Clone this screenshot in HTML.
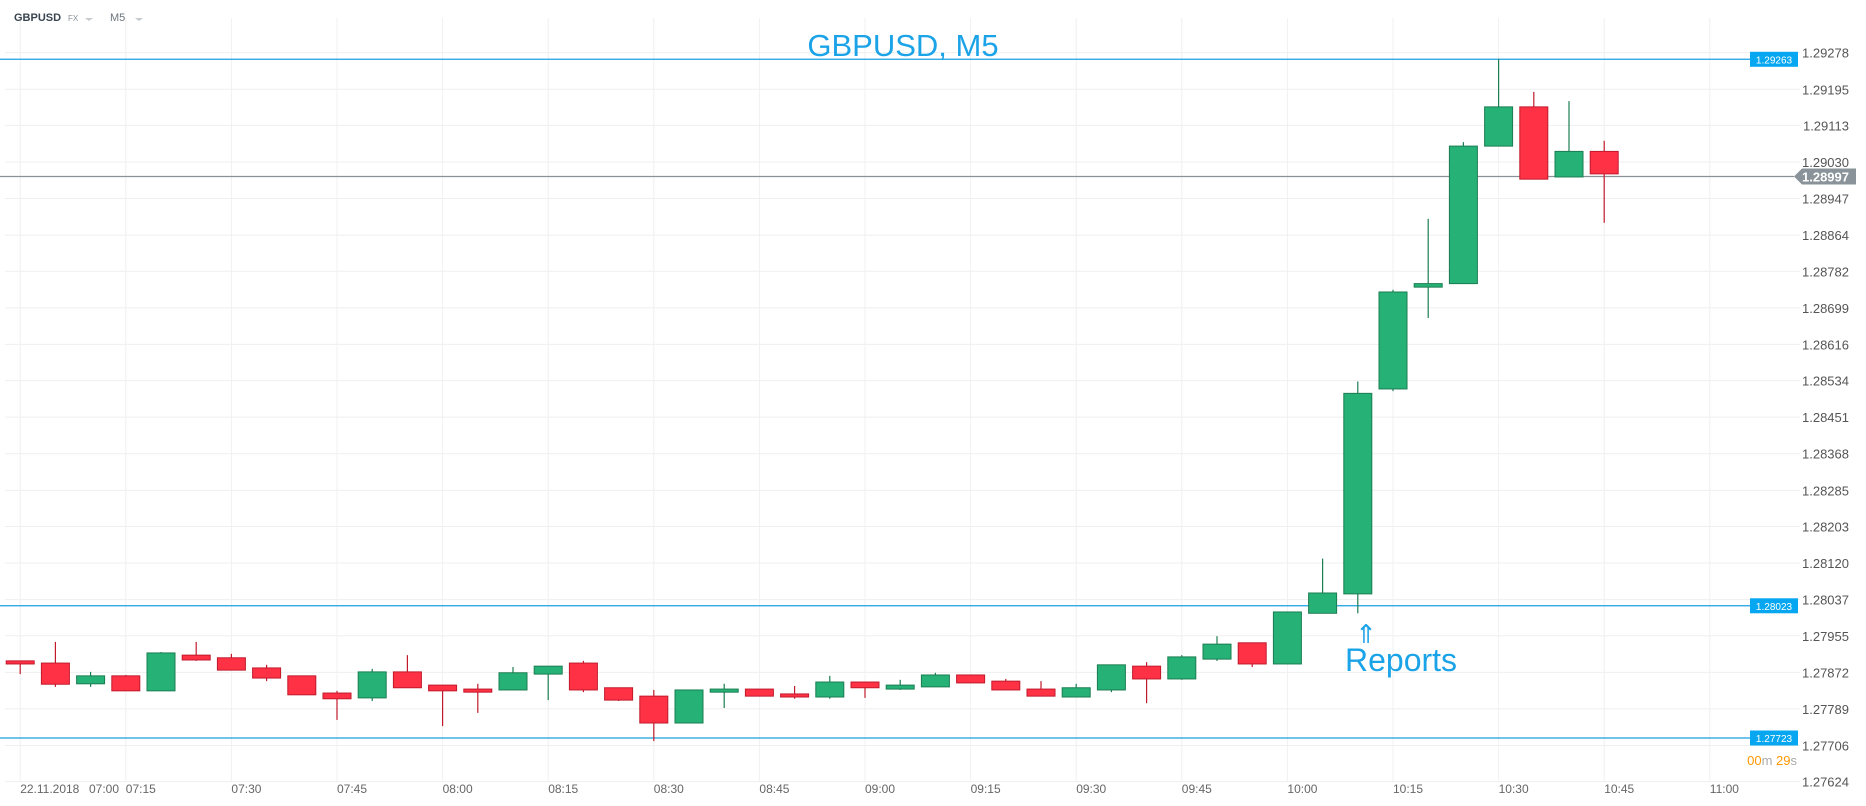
<!DOCTYPE html>
<html><head><meta charset="utf-8"><style>
html,body{margin:0;padding:0;background:#fff;}
svg{display:block;font-family:"Liberation Sans",sans-serif;}
</style></head><body>
<svg id="chart" width="1866" height="806" xmlns="http://www.w3.org/2000/svg">
<g id="grid"></g>
<g id="lines"></g>
<g id="candles"></g>
<g id="yaxis"></g>
<g id="xaxis"></g>
<text x="14" y="21" font-size="11" font-weight="bold" fill="#3a4550">GBPUSD</text>
<text x="68" y="21" font-size="8" fill="#8a939b">FX</text>
<path d="M85 18 L93 18 L89 21 Z" fill="#c5cacf"/>
<text x="110" y="21" font-size="11" fill="#6c757d">M5</text>
<path d="M135 18 L143 18 L139 21 Z" fill="#c5cacf"/>
<text x="903" y="56" font-size="31" fill="#1ba3e8" text-anchor="middle">GBPUSD, M5</text>
<text x="1345" y="671" font-size="32" fill="#1ba3e8">Reports</text>
<text x="1366" y="643" font-size="26" fill="#1ba3e8" text-anchor="middle">⇑</text>
<text x="1797" y="765" font-size="13" text-anchor="end"><tspan fill="#ff9800">00</tspan><tspan fill="#aaa">m </tspan><tspan fill="#ff9800">29</tspan><tspan fill="#aaa">s</tspan></text>
</svg>
<script>
const opens  = [1.27898,1.27893,1.27846,1.27864,1.27830,1.27911,1.27905,1.27882,1.27864,1.27825,1.27814,1.27873,1.27843,1.27834,1.27832,1.27868,1.27893,1.27837,1.27818,1.27757,1.27827,1.27834,1.27823,1.27816,1.27850,1.27834,1.27839,1.27866,1.27852,1.27834,1.27816,1.27832,1.27886,1.27857,1.27902,1.27939,1.27891,1.28006,1.28050,1.28515,1.28746,1.28754,1.29066,1.29155,1.28996,1.29054];
const highs  = [1.27898,1.27941,1.27873,1.27866,1.27918,1.27941,1.27914,1.27889,1.27864,1.27830,1.27880,1.27911,1.27843,1.27846,1.27884,1.27886,1.27898,1.27837,1.27832,1.27832,1.27846,1.27834,1.27841,1.27864,1.27850,1.27855,1.27871,1.27866,1.27857,1.27852,1.27846,1.27889,1.27895,1.27911,1.27954,1.27939,1.28009,1.28130,1.28532,1.28740,1.28901,1.29075,1.29264,1.29189,1.29168,1.29078];
const lows   = [1.27868,1.27839,1.27839,1.27830,1.27830,1.27898,1.27877,1.27852,1.27821,1.27764,1.27807,1.27837,1.27750,1.27780,1.27832,1.27809,1.27827,1.27807,1.27716,1.27757,1.27791,1.27818,1.27812,1.27812,1.27814,1.27832,1.27839,1.27848,1.27832,1.27818,1.27816,1.27827,1.27802,1.27855,1.27898,1.27884,1.27891,1.28006,1.28006,1.28510,1.28676,1.28754,1.29066,1.28991,1.28996,1.28892];
const closes = [1.27891,1.27845,1.27864,1.27830,1.27916,1.27900,1.27877,1.27859,1.27821,1.27812,1.27873,1.27837,1.27830,1.27827,1.27871,1.27886,1.27832,1.27809,1.27757,1.27832,1.27834,1.27818,1.27816,1.27850,1.27837,1.27843,1.27866,1.27848,1.27832,1.27818,1.27837,1.27889,1.27857,1.27907,1.27936,1.27891,1.28009,1.28052,1.28505,1.28735,1.28754,1.29066,1.29155,1.28991,1.29054,1.29003];
const yTicks = [1.29278,1.29195,1.29113,1.29030,1.28947,1.28864,1.28782,1.28699,1.28616,1.28534,1.28451,1.28368,1.28285,1.28203,1.28120,1.28037,1.27955,1.27872,1.27789,1.27706,1.27624];
const timeLabels = ["22.11.2018","07:15","07:30","07:45","08:00","08:15","08:30","08:45","09:00","09:15","09:30","09:45","10:00","10:15","10:30","10:45","11:00"];
const levels = [1.29263,1.28023,1.27723];
const lastPrice = 1.28997;

const NS="http://www.w3.org/2000/svg";
function yOf(p){return 738-(p-1.27723)/0.00002269;}
function xOf(i){return 20.2+35.2*i;}
function mk(tag,attrs,parent){const e=document.createElementNS(NS,tag);for(const k in attrs)e.setAttribute(k,attrs[k]);parent.appendChild(e);return e;}
const grid=document.getElementById('grid'),lines=document.getElementById('lines'),cg=document.getElementById('candles'),ya=document.getElementById('yaxis'),xa=document.getElementById('xaxis');
const RIGHT=1800;
yTicks.forEach(v=>{
  const y=yOf(v);
  const l=mk('line',{x1:5,x2:RIGHT,y1:y,y2:y,stroke:'#efefef','stroke-width':1},grid);
  
  
  const t=mk('text',{x:1849,y:y+5,'font-size':13,fill:'#555','text-anchor':'end'},ya);
  t.textContent=v.toFixed(5);
  
  
});
timeLabels.forEach((s,k)=>{
  const x=xOf(k*3);
  const l=mk('line',{x1:x,x2:x,y1:18,y2:782,stroke:'#f0f0f0','stroke-width':1},grid);
  
  
  const t=mk('text',{x:x,y:793,'font-size':12,fill:'#666'},xa);
  t.textContent=s;
  
  
});
const t7=mk('text',{x:89,y:793,'font-size':12,fill:'#666'},xa);
t7.textContent="07:00";



levels.forEach(v=>{
  const y=yOf(v);
  const l=mk('line',{x1:0,x2:1750,y1:y,y2:y,stroke:'#1aa0e0','stroke-width':1.2},lines);
  
  
  const r=mk('rect',{x:1750,y:y-7.5,width:48,height:15,fill:'#06a7f0'},lines);
  
  
  const t=mk('text',{x:1774,y:y+4,'font-size':10,fill:'#fff','text-anchor':'middle'},lines);
  t.textContent=v.toFixed(5);
  
  
});
{
  const y=yOf(lastPrice);
  const l=mk('line',{x1:0,x2:1794,y1:y,y2:y,stroke:'#8a9299','stroke-width':1.2},lines);
  
  
  const p=mk('path',{d:`M1794 ${y} L1802 ${y-8} L1856 ${y-8} L1856 ${y+8} L1802 ${y+8} Z`,fill:'#8a9399'},lines);
  
  
  const t=mk('text',{x:1849,y:y+5,'font-size':13,'font-weight':'bold',fill:'#fff','text-anchor':'end'},lines);
  t.textContent=lastPrice.toFixed(5);
  
  
}
for(let i=0;i<opens.length;i++){
  const up=closes[i]>=opens[i];
  const fill=up?'#26b276':'#ff3145', st=up?'#1b7d52':'#c11a2c';
  const x=xOf(i);
  const w=mk('line',{x1:x,x2:x,y1:yOf(highs[i]),y2:yOf(lows[i]),stroke:st,'stroke-width':1.2},cg);
  
  
  const top=yOf(Math.max(opens[i],closes[i])), bot=yOf(Math.min(opens[i],closes[i]));
  const b=mk('rect',{x:x-14,y:top,width:28,height:Math.max(1.5,bot-top),fill:fill,stroke:st,'stroke-width':1},cg);
  
  
}
</script>
</body></html>
